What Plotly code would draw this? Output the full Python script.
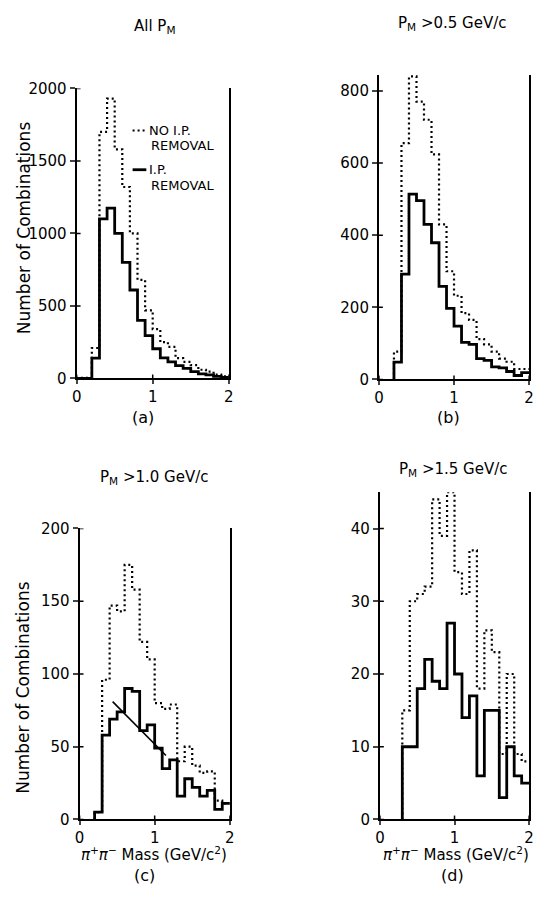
import plotly.graph_objects as go

# pi+ pi- invariant-mass spectra, 0.1 GeV/c^2 bins, for four P_M cuts
bin_width = 0.1

# (a) all P_M, bins start at 0.0
a_start = 0.0
a_no_ip = [5, 5, 210, 1700, 1930, 1580, 1320, 1000, 680, 470, 340, 250, 218, 140, 115, 92, 60, 47, 27, 15]
a_ip = [0, 0, 140, 1100, 1175, 1000, 800, 610, 400, 295, 205, 142, 115, 88, 70, 47, 32, 25, 14, 8]

# (b) P_M > 0.5 GeV/c, bins start at 0.2
b_start = 0.2
b_no_ip = [77, 655, 840, 770, 720, 624, 430, 300, 232, 184, 165, 112, 97, 77, 58, 49, 29, 29]
b_ip = [48, 292, 514, 496, 430, 379, 258, 197, 148, 103, 97, 58, 53, 35, 32, 22, 11, 19]

# (c) P_M > 1.0 GeV/c, bins start at 0.2
c_start = 0.2
c_no_ip = [5, 96, 147, 143, 175, 158, 122, 110, 80, 76, 79, 40, 50, 37, 32, 33, 13, 11]
c_ip = [5, 58, 69, 74, 90, 88, 61, 65, 49, 35, 41, 16, 28, 22, 16, 20, 7, 11]
c_fit_x = [0.44, 1.15]
c_fit_y = [81, 44]

# (d) P_M > 1.5 GeV/c, bins start at 0.3
d_start = 0.3
d_no_ip = [15, 30, 31, 32, 44, 39, 45, 34, 31, 37, 18, 26, 23, 9, 20, 9, 8]
d_ip = [10, 10, 18, 22, 19, 18, 27, 20, 14, 17, 6, 15, 15, 3, 10, 6, 5]

x_ticks = [0, 1, 2]
a_yticks = [0, 500, 1000, 1500, 2000]
b_yticks = [0, 200, 400, 600, 800]
c_yticks = [0, 50, 100, 150, 200]
d_yticks = [0, 10, 20, 30, 40]

titles = ["All P<sub>M</sub>", "P<sub>M</sub> >0.5 GeV/c",
          "P<sub>M</sub> >1.0 GeV/c", "P<sub>M</sub> >1.5 GeV/c"]
panel_tags = ["(a)", "(b)", "(c)", "(d)"]
mass_label = "<i>π</i><sup>+</sup><i>π</i><sup>−</sup> Mass (GeV/c<sup>2</sup>)"
count_label = "Number of Combinations"

W, H = 540, 901
FONT = "DejaVu Sans"


def fx(p):
    return p / W


def fy(p):
    return 1 - p / H


def steps(start, vals):
    xs, ys = [start], [0]
    for i, v in enumerate(vals):
        xs.append(start + i * bin_width)
        ys.append(v)
    xs.append(start + len(vals) * bin_width)
    ys.append(vals[-1])
    return xs, ys


# panel boxes in pixels: left, right, top, bottom; plus y range
panels = [
    dict(box=(73, 228, 81, 377), yr=[0, 2000], yt=a_yticks, start=a_start, dot=a_no_ip, sol=a_ip,
         title=(152, 18), tag=(141, 417)),
    dict(box=(381, 534, 67, 378), yr=[0, 845], yt=b_yticks, start=b_start, dot=b_no_ip, sol=b_ip,
         title=(455, 15), tag=(452, 417)),
    dict(box=(76, 229, 530, 827), yr=[0, 200], yt=c_yticks, start=c_start, dot=c_no_ip, sol=c_ip,
         title=(152, 478), tag=(142, 884)),
    dict(box=(382, 534, 493, 827), yr=[0, 45], yt=d_yticks, start=d_start, dot=d_no_ip, sol=d_ip,
         title=(456, 470), tag=(456, 884)),
]

fig = go.Figure()
layout = dict(width=W, height=H, margin=dict(l=0, r=0, t=0, b=0),
              paper_bgcolor="white", plot_bgcolor="white", showlegend=False,
              font=dict(family=FONT, color="black", size=14))
shapes = []
annotations = []

for i, p in enumerate(panels):
    sfx = "" if i == 0 else str(i + 1)
    xa, ya = "x" + sfx, "y" + sfx
    l, r, t, b = p["box"]
    layout["xaxis" + sfx] = dict(domain=[fx(l), fx(r)], anchor=ya, range=[0, 2],
                                 tickvals=x_ticks, ticks="outside", ticklen=4, tickwidth=1.5,
                                 showline=True, linewidth=2, linecolor="black",
                                 showgrid=False, zeroline=False, fixedrange=True,
                                 tickfont=dict(size=15, family=FONT))
    layout["yaxis" + sfx] = dict(domain=[fy(b), fy(t)], anchor=xa, range=p["yr"],
                                 tickvals=p["yt"], ticks="outside", ticklen=5, tickwidth=1.5,
                                 showline=True, linewidth=2, linecolor="black", mirror=True,
                                 showgrid=False, zeroline=False, fixedrange=True,
                                 tickfont=dict(size=15, family=FONT))

    dx, dy = steps(p["start"], p["dot"])
    fig.add_trace(go.Scatter(x=dx, y=dy, mode="lines", line_shape="hv", xaxis=xa, yaxis=ya,
                             line=dict(color="black", width=2.2, dash="2px,3px")))
    sx, sy = steps(p["start"], p["sol"])
    fig.add_trace(go.Scatter(x=sx, y=sy, mode="lines", line_shape="hv", xaxis=xa, yaxis=ya,
                             line=dict(color="black", width=2.8)))

    # inner half of the crossing tick marks
    for v in p["yt"]:
        shapes.append(dict(type="line", xref=xa + " domain", yref=ya, x0=0, x1=4 / (r - l),
                           y0=v, y1=v, line=dict(color="black", width=1.5)))
    for v in x_ticks:
        shapes.append(dict(type="line", xref=xa, yref=ya + " domain", x0=v, x1=v,
                           y0=0, y1=4 / (b - t), line=dict(color="black", width=1.5)))

    annotations.append(dict(text=titles[i], x=fx(p["title"][0]), y=fy(p["title"][1]),
                            xref="paper", yref="paper", showarrow=False,
                            font=dict(size=15, family=FONT), xanchor="center", yanchor="middle"))
    annotations.append(dict(text=panel_tags[i], x=fx(p["tag"][0]), y=fy(p["tag"][1]),
                            xref="paper", yref="paper", showarrow=False,
                            font=dict(size=16, family=FONT), xanchor="center", yanchor="middle"))

# straight-line fit drawn over panel (c)
fig.add_trace(go.Scatter(x=c_fit_x, y=c_fit_y, mode="lines", xaxis="x3", yaxis="y3",
                         line=dict(color="black", width=1.6)))

# y-axis titles on the left column
for yc in (223, 692):
    annotations.append(dict(text=count_label, x=fx(19), y=fy(yc), xref="paper", yref="paper",
                            showarrow=False, textangle=-90, font=dict(size=17, family=FONT),
                            xanchor="center", yanchor="middle"))
# x-axis titles on the bottom row
for xc in (152, 460):
    annotations.append(dict(text=mass_label, x=fx(xc), y=fy(862), xref="paper", yref="paper",
                            showarrow=False, font=dict(size=15, family=FONT),
                            xanchor="center", yanchor="middle"))

# key in panel (a)
shapes.append(dict(type="line", xref="paper", yref="paper", x0=fx(130), x1=fx(144),
                   y0=fy(124), y1=fy(124), line=dict(color="black", width=2.2, dash="2px,3px")))
shapes.append(dict(type="line", xref="paper", yref="paper", x0=fx(130), x1=fx(144),
                   y0=fy(164), y1=fy(164), line=dict(color="black", width=2.8)))
for txt, xp, yp in [("NO I.P.", 145, 124), ("REMOVAL", 147, 139),
                    ("I.P.", 145, 164), ("REMOVAL", 147, 180)]:
    annotations.append(dict(text=txt, x=fx(xp), y=fy(yp), xref="paper", yref="paper",
                            showarrow=False, font=dict(size=13, family=FONT),
                            xanchor="left", yanchor="middle"))

layout["shapes"] = shapes
layout["annotations"] = annotations
fig.update_layout(**layout)
fig.write_html("out.html")
